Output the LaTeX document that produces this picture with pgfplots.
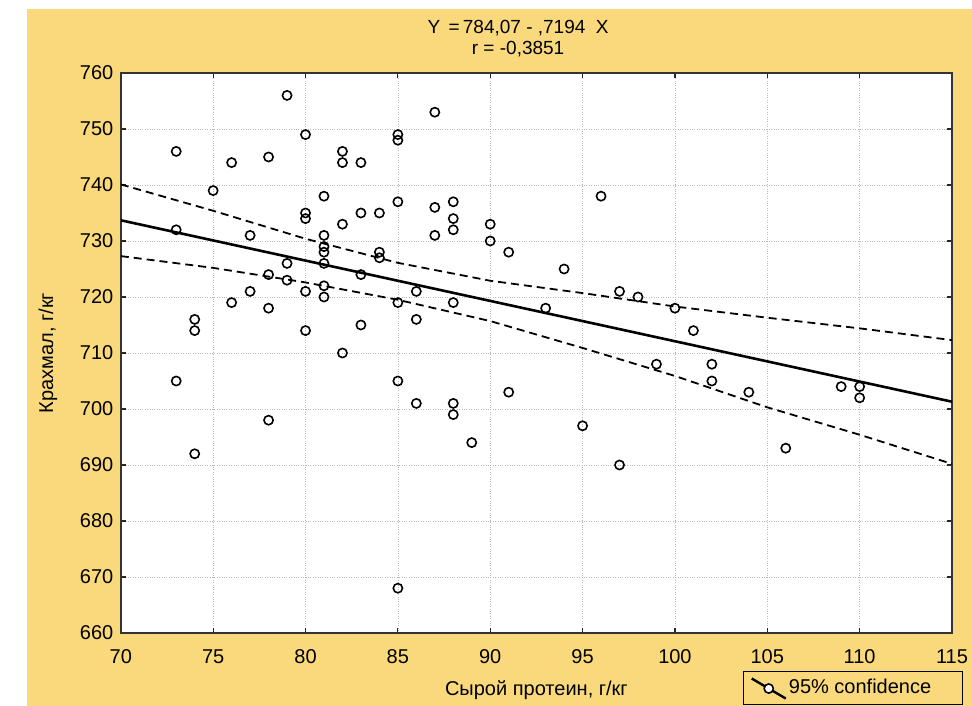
\documentclass[border=0pt]{standalone}
\usepackage{fontspec}
\setmainfont{Liberation Sans}
\usepackage{pgfplots}
\pgfplotsset{compat=1.18}
\definecolor{bgyellow}{RGB}{249,217,124}

% scatter: protein (x) vs starch (y)
\pgfplotstableread{
x y
73 746
79 756
80 749
85 749
85 748
76 744
78 745
82 746
82 744
83 744
75 739
81 738
85 737
80 735
80 734
83 735
84 735
82 733
73 732
77 731
81 731
81 729
81 728
81 726
84 728
84 727
79 726
83 724
78 724
79 723
77 721
80 721
81 722
81 720
76 719
78 718
85 719
74 716
74 714
80 714
83 715
82 710
73 705
85 705
78 698
74 692
85 668
87 753
87 736
88 737
88 734
88 732
87 731
90 733
90 730
91 728
94 725
96 738
97 721
98 720
100 718
93 718
86 721
88 719
86 716
86 701
88 701
88 699
89 694
91 703
95 697
97 690
99 708
101 714
102 708
102 705
104 703
106 693
109 704
110 704
110 702
}\pts

\pgfplotstableread{
x up lo
70  740.1 727.3
75  735.4 725.2
80  730.4 722.6
85  726.1 719.5
90  722.9 715.7
95  720.7 710.9
100 718.3 705.9
105 716.3 700.3
110 714.4 695.4
115 712.3 690.2
}\band

\begin{document}
\begin{tikzpicture}[x=1pt,y=1pt]
\fill[white] (0,0) rectangle (972,706);
\fill[bgyellow] (27,0) rectangle (972,697);
\begin{axis}[
    at={(120.8pt,73pt)}, anchor=south west,
    scale only axis, width=831.2pt, height=560pt,
    xmin=70, xmax=115, ymin=660, ymax=760,
    xtick={70,75,...,115}, ytick={660,670,...,760},
    tick pos=both, tick align=inside,
    major tick length=5pt,
    tick style={black!85, line width=1.2pt},
    axis line style={black!80, line width=1.5pt},
    axis background/.style={fill=white},
    grid=major,
    major grid style={gray!55, dotted, line width=0.7pt},
    font=\fontsize{20}{23}\selectfont,
    /pgf/number format/assume math mode=true,
    /pgf/number format/1000 sep={},
    xticklabel style={yshift=-13pt},
    yticklabel style={xshift=-4pt},
    xlabel={Сырой протеин, г/кг},
    ylabel={Крахмал, г/кг},
    xlabel style={at={(axis description cs:0.5,-0.1018)}, anchor=center},
    ylabel style={at={(axis description cs:-0.0876,0.5)}, anchor=center, rotate=0},
    title={Y \,=\,784,07 - ,7194 \ X\\r = -0,3851},
    title style={at={(axis description cs:0.478,1.050)}, anchor=center,
        align=center, font=\fontsize{19}{21}\selectfont},
    legend style={at={(axis description cs:0.7486,-0.0679)}, anchor=north west,
        draw=black, line width=1pt, fill=none, inner xsep=7pt, inner ysep=5pt,
        font=\fontsize{20}{23}\selectfont},
    legend cell align=left,
]
\addplot[only marks, mark=o, mark size=4.6pt, mark options={line width=1.6pt, black},
    forget plot] table[x=x, y=y] {\pts};
\addplot[black, line width=1.8pt, dash pattern=on 8pt off 5pt, forget plot]
    table[x=x, y=up] {\band};
\addplot[black, line width=1.8pt, dash pattern=on 8pt off 5pt, forget plot]
    table[x=x, y=lo] {\band};
\addplot[black, line width=2.6pt,
    legend image code/.code={
        \draw[black, line width=2.4pt] (0pt,8pt) -- (34pt,-12pt);
        \draw[black, line width=1.6pt, fill=white] (17pt,-2pt) circle (4.6pt);
    }] coordinates {(70,733.7) (115,701.3)};
\addlegendentry{\makebox[165pt][l]{95\% confidence}}
\end{axis}
\end{tikzpicture}
\end{document}
